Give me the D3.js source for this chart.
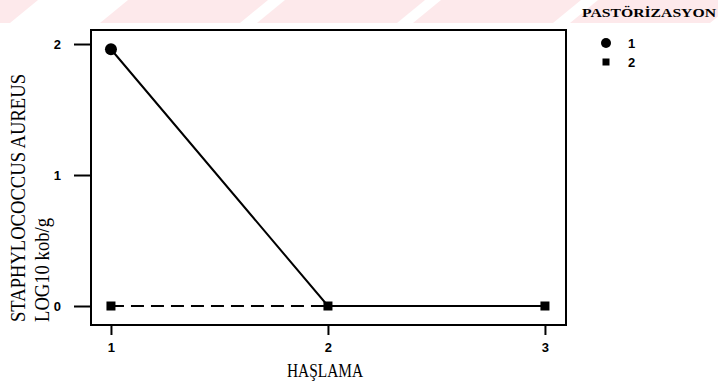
<!DOCTYPE html>
<html>
<head>
<meta charset="utf-8">
<script src="https://cdn.jsdelivr.net/npm/d3@7"></script>
<style>
  body { margin: 0; background: #fff; }
  svg { display: block; }
</style>
</head>
<body>
<div id="chart"></div>
<script>

// data
const haslama = [1, 2, 3];
const series1 = [1.96, 0, 0];   // pastorizasyon 1 (circle, solid)
const series2 = [0, 0, 0];      // pastorizasyon 2 (square, dashed)
const yTicks = [0, 1, 2];
const legendLabels = ["1", "2"];

// dimensions
const width = 718;
const height = 388;
const box = {left: 91, right: 566, top: 30, bottom: 325};

const svg = d3.select("#chart")
  .append("svg")
  .attr("width", width)
  .attr("height", height);

// faint pink diagonal watermark band at the top
const stripeStarts = [-130, 100, 257, 413, 570];
svg.append("g")
  .selectAll("polygon")
  .data(stripeStarts)
  .enter()
  .append("polygon")
    .attr("points", d => [[d, 23], [d + 140, 23], [d + 168, 0], [d + 28, 0]].join(" "))
    .attr("fill", "#fde9eb");

// scales
let xScale = d3.scaleLinear()
  .domain([0.908, 3.097])
  .range([box.left, box.right]);

let yScale = d3.scaleLinear()
  .domain([-0.145, 2.107])
  .range([box.bottom, box.top]);

// y axis
svg.append("g")
  .attr("transform", `translate(${box.left},0)`)
  .call(d3.axisLeft(yScale).tickValues(yTicks).tickFormat(d3.format("d"))
          .tickSize(17).tickPadding(13))
  .call(g => g.select(".domain").remove())
  .call(g => g.selectAll("line").attr("stroke-width", 2))
  .attr("font-family", "Liberation Sans, Arial, sans-serif")
  .attr("font-weight", "bold")
  .attr("font-size", "13px");

// x axis
svg.append("g")
  .attr("transform", `translate(0,${box.bottom})`)
  .call(d3.axisBottom(xScale).tickValues(haslama).tickFormat(d3.format("d"))
          .tickSize(10).tickPadding(8))
  .call(g => g.select(".domain").remove())
  .call(g => g.selectAll("line").attr("stroke-width", 2))
  .attr("font-family", "Liberation Sans, Arial, sans-serif")
  .attr("font-weight", "bold")
  .attr("font-size", "13px");

// plot frame
svg.append("rect")
  .attr("x", box.left)
  .attr("y", box.top)
  .attr("width", box.right - box.left)
  .attr("height", box.bottom - box.top)
  .attr("fill", "none")
  .attr("stroke", "#000")
  .attr("stroke-width", 2);

// lines
const line = d3.line()
  .x((d, i) => xScale(haslama[i]))
  .y(d => yScale(d));

svg.append("path")
  .datum(series2)
  .attr("d", line)
  .attr("fill", "none")
  .attr("stroke", "#000")
  .attr("stroke-width", 2)
  .attr("stroke-dasharray", "13,7");

svg.append("path")
  .datum(series1)
  .attr("d", line)
  .attr("fill", "none")
  .attr("stroke", "#000")
  .attr("stroke-width", 2);

// markers - where both series coincide only the square of series 2 is drawn
svg.selectAll(".dot1")
  .data(haslama.map((h, i) => ({x: h, y: series1[i], hidden: series1[i] === series2[i]})))
  .enter()
  .filter(d => !d.hidden)
  .append("circle")
    .attr("class", "dot1")
    .attr("cx", d => xScale(d.x))
    .attr("cy", d => yScale(d.y))
    .attr("r", 6)
    .attr("fill", "#000");

svg.selectAll(".dot2")
  .data(haslama.map((h, i) => ({x: h, y: series2[i]})))
  .enter()
  .append("rect")
    .attr("class", "dot2")
    .attr("x", d => xScale(d.x) - 4.5)
    .attr("y", d => yScale(d.y) - 4.5)
    .attr("width", 9)
    .attr("height", 9)
    .attr("fill", "#000");

// axis titles
svg.append("text")
  .attr("x", 325)
  .attr("y", 377)
  .attr("text-anchor", "middle")
  .attr("font-family", "Liberation Serif, Times New Roman, serif")
  .attr("font-size", "18px")
  .attr("textLength", 76)
  .attr("lengthAdjust", "spacingAndGlyphs")
  .text("HAŞLAMA");

svg.append("text")
  .attr("transform", "translate(25,322) rotate(-90)")
  .attr("font-family", "Liberation Serif, Times New Roman, serif")
  .attr("font-size", "20px")
  .attr("textLength", 248)
  .attr("lengthAdjust", "spacingAndGlyphs")
  .text("STAPHYLOCOCCUS AUREUS");

svg.append("text")
  .attr("transform", "translate(49,322) rotate(-90)")
  .attr("font-family", "Liberation Serif, Times New Roman, serif")
  .attr("font-size", "20px")
  .attr("textLength", 104)
  .attr("lengthAdjust", "spacingAndGlyphs")
  .text("LOG10 kob/g");

// legend
svg.append("text")
  .attr("x", 582)
  .attr("y", 17)
  .attr("font-family", "Liberation Serif, Times New Roman, serif")
  .attr("font-weight", "bold")
  .attr("font-size", "13px")
  .attr("textLength", 134)
  .attr("lengthAdjust", "spacingAndGlyphs")
  .text("PASTÖRİZASYON");

const legend = svg.append("g")
  .attr("font-family", "Liberation Sans, Arial, sans-serif")
  .attr("font-weight", "bold")
  .attr("font-size", "13px");

legend.append("circle")
  .attr("cx", 606).attr("cy", 43).attr("r", 5).attr("fill", "#000");
legend.append("rect")
  .attr("x", 602.5).attr("y", 58.5).attr("width", 7).attr("height", 7).attr("fill", "#000");

legend.selectAll(".legend-label")
  .data(legendLabels)
  .enter()
  .append("text")
    .attr("class", "legend-label")
    .attr("x", 628)
    .attr("y", (d, i) => 48 + i * 19)
    .text(d => d);

</script>
</body>
</html>
